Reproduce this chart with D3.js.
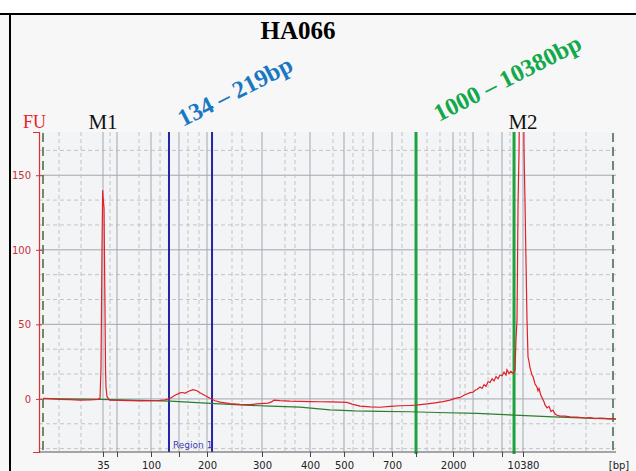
<!DOCTYPE html>
<html>
<head>
<meta charset="utf-8">
<script src="https://cdn.jsdelivr.net/npm/d3@7"></script>
<style>
  html, body { margin: 0; padding: 0; background: #fff; }
  svg { display: block; }
</style>
</head>
<body>
<div id="chart"></div>
<script>
// ladder peaks: size in bp and migration time (s)
const ladderBp   = [35, 50, 100, 150, 200, 300, 400, 500, 600, 700, 1000, 2000, 3000, 7000, 10380];
const ladderTime = [49.43, 51.49, 56.50, 60.62, 64.75, 72.85, 79.92, 84.93, 89.20, 92.00, 95.54, 100.99, 103.94, 108.21, 111.30];
const labelledBp = [35, 100, 200, 300, 400, 500, 700, 2000, 10380];

// minor dashed time grid
const minorTimes = [42.95, 46.19, 50.46, 54.73, 57.83, 61.95, 63.57, 68.43, 69.91, 76.24, 77.71, 83.31, 86.26, 87.73,
                    93.48, 97.16, 99.07, 102.02, 102.76, 106.15, 109.39, 115.87, 120.58];

const yTicks = [0, 50, 100, 150];

// sample trace (FU against time)
const traceTime = [40.59, 41.62, 43.09, 44.57, 46.04, 47.51, 48.69, 48.99, 49.13, 49.28, 49.38, 49.43, 49.58, 49.72, 49.80,
  49.87, 50.02, 50.17, 50.46, 51.93, 53.41, 54.88, 56.35, 57.83, 58.56, 59.30, 60.04, 60.77, 61.21, 61.51, 61.95, 62.69,
  63.28, 63.72, 64.45, 65.19, 65.93, 66.67, 68.14, 69.61, 71.08, 72.56, 73.74, 74.33, 74.62, 75.50, 76.98, 78.45, 79.92,
  81.40, 82.87, 84.34, 85.37, 86.11, 87.29, 88.76, 90.24, 91.71, 93.18, 94.66, 95.54, 96.87, 98.34, 99.52, 100.55,
  101.29, 102.02, 102.76, 103.50, 103.94, 104.24, 104.53, 104.97, 105.27, 105.56, 105.85, 106.15, 106.44, 106.74,
  107.03, 107.33, 107.62, 107.91, 108.21, 108.50, 108.80, 108.94, 109.24, 109.53, 109.83, 110.12, 110.27, 110.42,
  110.57, 110.72, 110.86, 111.01, 111.16, 111.30, 111.45, 111.60, 111.75, 111.89, 112.04, 112.19, 112.33, 112.63,
  112.78, 113.07, 113.36, 113.51, 113.66, 113.96, 114.10, 114.40, 114.54, 114.84, 115.13, 115.43, 115.72, 116.01,
  116.31, 116.75, 117.49, 118.23, 119.26, 120.44, 121.17, 121.91, 122.65, 123.38, 124.12, 124.56, 125.00];
const traceFU = [0.3, 0.2, -0.3, -0.5, -0.8, -0.6, -0.3, 0.5, 20, 100, 140, 136, 128, 60, 20,
  8, 1.5, 0.5, -0.8, -1.0, -1.2, -1.3, -1.2, -1.0, -0.6, 0.3, 2.5, 4, 4.3, 3.8, 5, 6.2,
  5.5, 4.2, 2.3, 0.5, -1.2, -2.2, -3.2, -3.6, -3.8, -3.2, -2.8, -1.8, -0.8, -1.2, -1.5, -1.6, -1.8,
  -1.9, -2.0, -2.1, -2.3, -3.5, -4.8, -5.3, -5.6, -5.0, -4.6, -4.4, -4.2, -3.5, -2.6, -1.8, -0.8,
  0.4, 1.0, 2.8, 4.2, 4.5, 5.8, 6.3, 8.0, 7.0, 9.5, 8.5, 11.5, 11.0, 13.5,
  12.0, 15.0, 13.5, 16.0, 15.5, 18.0, 16.0, 19.5, 17.0, 18.5, 17.0, 19.0, 40, 53,
  131, 167, 260, 300, 300, 250, 167, 131, 90, 53, 28, 25, 21, 16,
  15, 10, 8, 5.5, 7, 2, 1, -2, -4, -6, -5, -8.5, -7.5, -10,
  -11, -11.5, -11.5, -12, -12.2, -12.8, -12.5, -13.2, -12.8, -13, -13.4, -13, -13.6];

// fitted baseline
const baseTime = [40.59, 48.99, 59.30, 65.93, 70.35, 74.03, 78.45, 82.87, 86.55, 90.24, 94.66, 98.63, 104.53, 110.86, 115.72, 125.00];
const baseFU   = [0.2, -0.3, -1.5, -3.2, -4.2, -4.8, -5.5, -7.3, -8.0, -8.3, -8.6, -9.1, -9.7, -11.0, -12.0, -13.5];

// analysis window and the two regions
const windowTime = [40.59, 124.56];
const region1Time = [59.15, 65.49];
const region2Time = [95.54, 109.98];
const markerNames = ['M1', 'M2'];
const markerTime = [49.43, 111.30];

const W = 636, H = 471;
const margin = { top: 132, right: 20, bottom: 19, left: 39 };
const plotW = W - margin.left - margin.right;
const plotH = H - margin.top - margin.bottom;

const svg = d3.select('#chart').append('svg').attr('width', W).attr('height', H);

// frame
svg.append('rect').attr('x', 0).attr('y', 15).attr('width', W).attr('height', H - 15).attr('fill', '#f7f7f8');
svg.append('line').attr('x1', 0).attr('x2', W).attr('y1', 14).attr('y2', 14).attr('stroke', '#000').attr('stroke-width', 2);
svg.append('line').attr('x1', 10).attr('x2', 10).attr('y1', 14).attr('y2', H).attr('stroke', '#000').attr('stroke-width', 2);

svg.append('text').attr('x', 298).attr('y', 39).attr('text-anchor', 'middle')
  .attr('font-family', 'Liberation Serif').attr('font-weight', 'bold').attr('font-size', 25)
  .text('HA066');

const x = d3.scaleLinear().domain([40, 125]).range([0, plotW]);
const y = d3.scaleLinear().domain([-35.6, 179]).range([plotH, 0]);

const g = svg.append('g').attr('transform', `translate(${margin.left},${margin.top})`);
g.append('rect').attr('width', plotW).attr('height', plotH).attr('fill', '#f3f4f6');

svg.append('defs').append('clipPath').attr('id', 'clip')
  .append('rect').attr('width', plotW).attr('height', plotH);

// horizontal grid
const hGrid = d3.range(-2, 11).map(i => i * 50 / 3);
g.selectAll('.hgrid').data(hGrid).enter().append('line')
  .attr('x1', 0).attr('x2', plotW)
  .attr('y1', d => y(d)).attr('y2', d => y(d))
  .attr('stroke', d => Math.abs(d % 50) < 0.01 ? '#a3a6b0' : '#c4c4c8')
  .attr('stroke-dasharray', d => Math.abs(d % 50) < 0.01 ? null : '4,3');

// vertical grid
g.selectAll('.vminor').data(minorTimes).enter().append('line')
  .attr('x1', d => x(d)).attr('x2', d => x(d)).attr('y1', 0).attr('y2', plotH)
  .attr('stroke', '#c4c4c8').attr('stroke-dasharray', '4,3');
g.selectAll('.vmajor').data(ladderTime).enter().append('line')
  .attr('x1', d => x(d)).attr('x2', d => x(d)).attr('y1', 0).attr('y2', plotH)
  .attr('stroke', '#a3a6b4');

// analysis window
g.selectAll('.win').data(windowTime).enter().append('line')
  .attr('x1', d => x(d)).attr('x2', d => x(d)).attr('y1', 1).attr('y2', plotH)
  .attr('stroke', '#355c35').attr('stroke-width', 1.4).attr('stroke-dasharray', '9,5');

// regions
g.selectAll('.r1').data(region1Time).enter().append('line')
  .attr('x1', d => x(d)).attr('x2', d => x(d)).attr('y1', 0).attr('y2', plotH)
  .attr('stroke', '#2424a8').attr('stroke-width', 2);
g.selectAll('.r2').data(region2Time).enter().append('line')
  .attr('x1', d => x(d)).attr('x2', d => x(d)).attr('y1', 0).attr('y2', plotH + 2)
  .attr('stroke', '#1ea23e').attr('stroke-width', 3);
g.append('text').attr('x', x(region1Time[0]) + 4).attr('y', plotH - 4)
  .attr('font-family', 'DejaVu Sans').attr('font-size', 9).attr('fill', '#3b3bb0')
  .text('Region 1');

// baseline and trace
const line = d3.line().x(d => x(d[0])).y(d => y(d[1]));
g.append('path').datum(d3.zip(baseTime, baseFU)).attr('d', line)
  .attr('fill', 'none').attr('stroke', '#2e7d2e').attr('stroke-width', 1.2);
g.append('path').datum(d3.zip(traceTime, traceFU)).attr('d', line)
  .attr('clip-path', 'url(#clip)')
  .attr('fill', 'none').attr('stroke', '#e0202a').attr('stroke-width', 1.2);

// axes
const yAxis = g.append('g').call(d3.axisLeft(y).tickValues(yTicks).tickSize(6).tickPadding(2));
yAxis.select('.domain').attr('stroke', '#e03030').attr('stroke-width', 1.2);
yAxis.selectAll('.tick line').attr('stroke', '#d03040').attr('transform', 'translate(3,0)');
yAxis.selectAll('.tick text').attr('fill', '#c8303a').attr('font-family', 'DejaVu Sans').attr('font-size', 10);

const xAxis = g.append('g').attr('transform', `translate(0,${plotH})`)
  .call(d3.axisBottom(x).tickValues(ladderTime).tickSize(5).tickPadding(5)
    .tickFormat((d, i) => labelledBp.includes(ladderBp[i]) ? ladderBp[i] : ''));
xAxis.select('.domain').attr('stroke', '#555').attr('d', `M0,0H${plotW}`);
xAxis.selectAll('.tick line').attr('stroke', '#444');
xAxis.selectAll('.tick text').attr('fill', '#222').attr('font-family', 'DejaVu Sans').attr('font-size', 10);
g.append('text').attr('x', plotW + 3).attr('y', plotH + 17).attr('text-anchor', 'middle')
  .attr('font-family', 'DejaVu Sans').attr('font-size', 10).attr('fill', '#222').text('[bp]');

// labels above the plot
svg.append('text').attr('x', 23).attr('y', 128)
  .attr('font-family', 'Liberation Serif').attr('font-size', 18).attr('fill', '#ee1c24').text('FU');
g.selectAll('.mk').data(markerNames).enter().append('text')
  .attr('x', (d, i) => x(markerTime[i])).attr('y', -3).attr('text-anchor', 'middle')
  .attr('font-family', 'Liberation Serif').attr('font-size', 21).attr('fill', '#111').text(d => d);

const annot = [
  { text: '134 \u2013 219bp', t: region1Time[0], color: '#1a78c2', dx: 14, dy: -5 },
  { text: '1000 \u2013 10380bp', t: region2Time[0], color: '#12a84c', dx: 23, dy: -10 }
];
annot.forEach(a => {
  g.append('text')
    .attr('transform', `translate(${x(a.t) + a.dx},${a.dy}) rotate(-27)`)
    .attr('font-family', 'Liberation Serif').attr('font-weight', 'bold').attr('font-size', 24.5)
    .attr('fill', a.color).text(a.text);
});
</script>
</body>
</html>
